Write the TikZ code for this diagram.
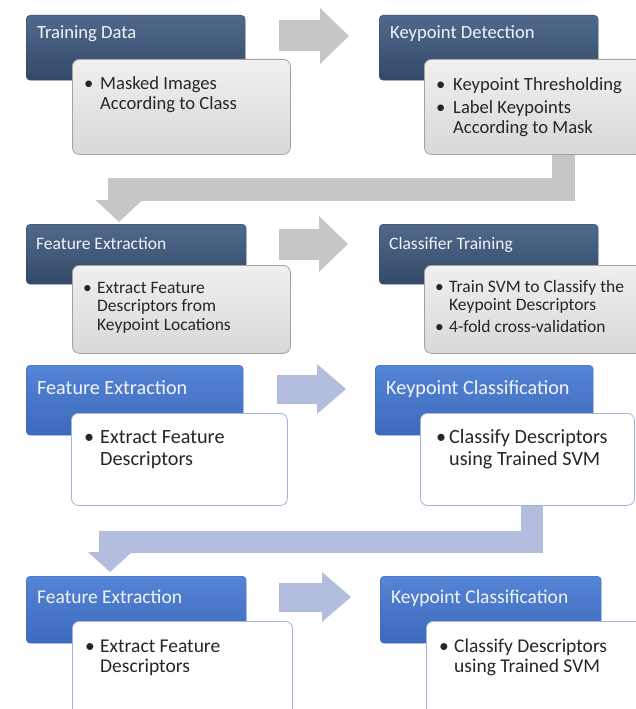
\documentclass[tikz,border=0pt]{standalone}
\usepackage{fontspec}
\setmainfont{Carlito}
\usepackage{tikz}
\usetikzlibrary{arrows.meta,calc}
\definecolor{navyT}{HTML}{50698A}
\definecolor{navyB}{HTML}{33496A}
\definecolor{blueT}{HTML}{5585D6}
\definecolor{blueB}{HTML}{3C69BB}
\definecolor{greyT}{HTML}{F0F0F0}
\definecolor{greyB}{HTML}{D8D8D8}
\definecolor{greyline}{HTML}{A3A3A3}
\definecolor{whiteline}{HTML}{A3B4D6}
\definecolor{garrowc}{HTML}{C6C6C6}
\definecolor{barrowc}{HTML}{B3BEDE}
\definecolor{hdrtext}{HTML}{F2F4F8}
\definecolor{bodytext}{HTML}{262626}
\newlength{\bulw}
\newcommand{\bitem}[1]{\hbox{\hbox to\bulw{\textbullet\hss}#1}}
\newcommand{\bmore}[1]{\hbox{\hskip\bulw #1}}
\newcommand{\fA}{\fontsize{18.6}{20}\selectfont}
\newcommand{\fB}{\fontsize{17.5}{18.5}\selectfont}
\newcommand{\fC}{\fontsize{20.2}{22}\selectfont}
\newcommand{\fD}{\fontsize{19.5}{20.5}\selectfont}

\begin{document}
\begin{tikzpicture}[x=1pt,y=-1pt,line join=miter,
  hdr/.style={anchor=north west,inner sep=0pt,rounded corners=4pt,draw=navyB,top color=navyT,bottom color=navyB},
  bhdr/.style={anchor=north west,inner sep=0pt,rounded corners=4pt,draw=blueB,top color=blueT,bottom color=blueB},
  gbox/.style={anchor=north west,inner sep=0pt,rounded corners=7pt,draw=greyline,line width=0.8pt,top color=greyT,bottom color=greyB},
  wbox/.style={anchor=north west,inner sep=0pt,rounded corners=7pt,draw=whiteline,line width=0.8pt,fill=white},
  htxt/.style={anchor=base west,inner sep=0pt,text=hdrtext},
  dtxt/.style={anchor=base west,inner sep=0pt,text=bodytext},
  garrow/.style={draw=garrowc,line width=31pt,-{Triangle[length=29pt,width=56pt,line width=0pt]}},
  barrow/.style={draw=barrowc,line width=29pt,-{Triangle[length=29pt,width=50pt,line width=0pt]}},
  gbend/.style={draw=garrowc,line width=23pt,-{Triangle[length=22pt,width=47pt,line width=0pt]}},
  bbend/.style={draw=barrowc,line width=22pt,-{Triangle[length=20pt,width=44pt,line width=0pt]}}]
\useasboundingbox (0,0) rectangle (636,709);
\clip (0,0) rectangle (636,709);

\node[hdr,minimum width=219pt,minimum height=65pt] (td) at (26,15) {};
\node[hdr,minimum width=219pt,minimum height=65pt] (kd) at (379,15) {};
\node[gbox,minimum width=218pt,minimum height=95pt] (tdd) at (72,59) {};
\node[gbox,minimum width=218pt,minimum height=95pt] (kdd) at (424,59) {};
\node[htxt,font=\fA] (tdl) at (37,39) {Training Data};
\node[htxt,font=\fA] (kdl) at (390,39) {Keypoint Detection};
\node[dtxt,font=\fA] (tdt) at (84,89) {\setlength{\bulw}{16pt}\vtop{\bitem{Masked Images}\bmore{According to Class}}};
\node[dtxt,font=\fA] (kdt) at (436,90) {\setlength{\bulw}{17pt}\vtop{\bitem{Keypoint Thresholding}\vskip3pt\bitem{Label Keypoints}\bmore{According to Mask}}};

\node[hdr,minimum width=220pt,minimum height=60pt] (fe) at (26,224) {};
\node[hdr,minimum width=219pt,minimum height=60pt] (ct) at (379,224) {};
\node[gbox,minimum width=218pt,minimum height=88pt] (fed) at (72,265) {};
\node[gbox,minimum width=218pt,minimum height=88pt] (ctd) at (424,265) {};
\node[htxt,font=\fB] (fel) at (36,249) {Feature Extraction};
\node[htxt,font=\fB] (ctl) at (389,249) {Classifier Training};
\node[dtxt,font=\fB] (fet) at (83,293) {\setlength{\bulw}{14pt}\vtop{\bitem{Extract Feature}\bmore{Descriptors from}\bmore{Keypoint Locations}}};
\node[dtxt,font=\fB] (ctt) at (435,292) {\setlength{\bulw}{14pt}\vtop{\bitem{Train SVM to Classify the}\bmore{Keypoint Descriptors}\vskip3pt\bitem{4-fold cross-validation}}};

\node[bhdr,minimum width=217pt,minimum height=70pt] (fe2) at (26,365) {};
\node[bhdr,minimum width=218pt,minimum height=70pt] (kc) at (375,365) {};
\node[wbox,minimum width=216pt,minimum height=92pt] (fe2d) at (71,413) {};
\node[wbox,minimum width=214pt,minimum height=92pt] (kcd) at (420,413) {};
\node[htxt,font=\fC] (fe2l) at (37,394) {Feature Extraction};
\node[htxt,font=\fC] (kcl) at (386,394) {Keypoint Classification};
\node[dtxt,font=\fC] (fe2t) at (84,443) {\setlength{\bulw}{16pt}\vtop{\bitem{Extract Feature}\bmore{Descriptors}}};
\node[dtxt,font=\fC] (kct) at (436,443) {\setlength{\bulw}{13pt}\vtop{\bitem{Classify Descriptors}\bmore{using Trained SVM}}};

\node[bhdr,minimum width=220pt,minimum height=67pt] (fe3) at (26,576) {};
\node[bhdr,minimum width=221pt,minimum height=67pt] (kc2) at (380,576) {};
\node[wbox,minimum width=220pt,minimum height=100pt] (fe3d) at (72,621) {};
\node[wbox,minimum width=218pt,minimum height=100pt] (kc2d) at (426,621) {};
\node[htxt,font=\fD] (fe3l) at (37,603) {Feature Extraction};
\node[htxt,font=\fD] (kc2l) at (391,603) {Keypoint Classification};
\node[dtxt,font=\fD] (fe3t) at (85,652) {\setlength{\bulw}{15pt}\vtop{\bitem{Extract Feature}\bmore{Descriptors}}};
\node[dtxt,font=\fD] (kc2t) at (439,652) {\setlength{\bulw}{15pt}\vtop{\bitem{Classify Descriptors}\bmore{using Trained SVM}}};

\draw[garrow] ([shift={(34pt,-21pt)}]td.north east) -- ([shift={(-30pt,-21pt)}]kd.north west);
\draw[gbend] ([xshift=30pt]kdd.south) -- ++(0,34.5) -| ([shift={(93pt,2pt)}]fe.north west);
\draw[garrow] ([shift={(33pt,-20pt)}]fe.north east) -- ([shift={(-31pt,-20pt)}]ct.north west);
\draw[barrow] ([shift={(34pt,-24pt)}]fe2.north east) -- ([shift={(-29pt,-24pt)}]kc.north west);
\draw[bbend] ([xshift=5pt]kcd.south) -- ++(0,36) -| ([shift={(84pt,4pt)}]fe3.north west);
\draw[barrow] ([shift={(33pt,-21pt)}]fe3.north east) -- ([shift={(-29pt,-21pt)}]kc2.north west);
\end{tikzpicture}
\end{document}
